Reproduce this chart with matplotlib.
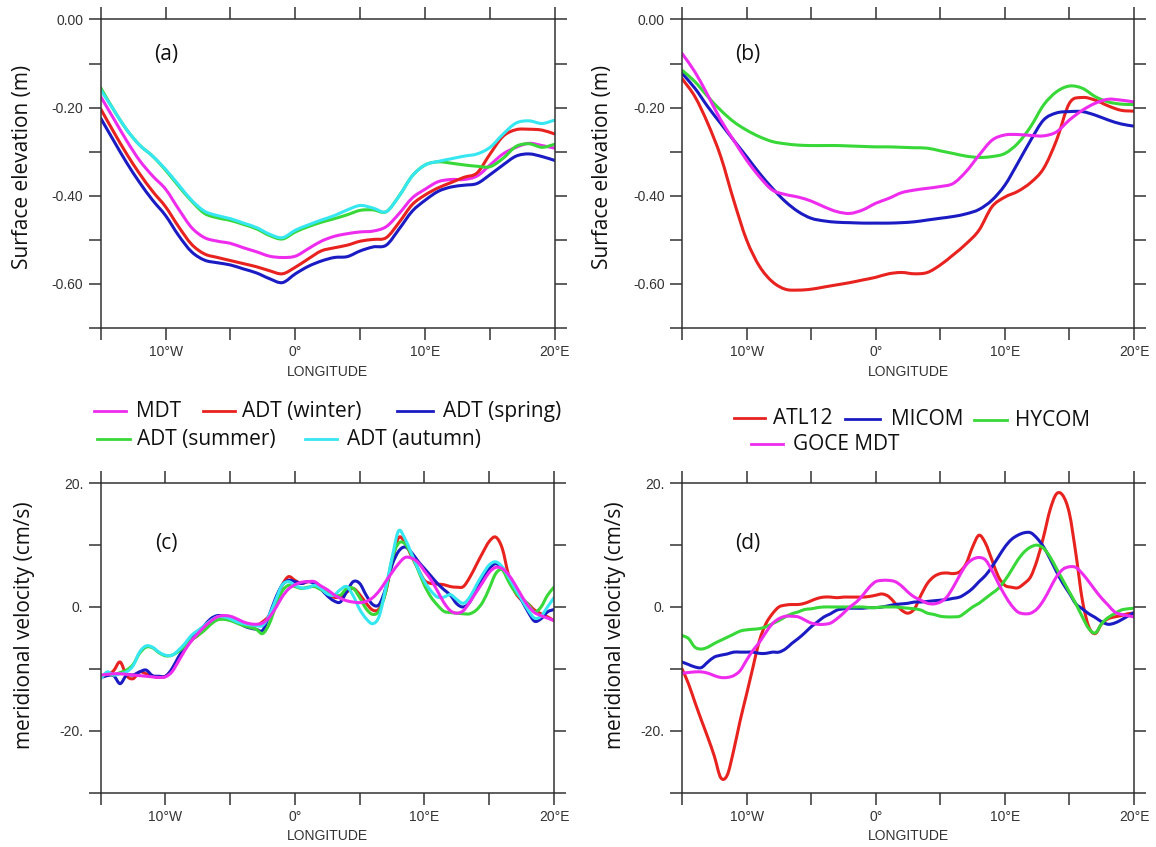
import numpy as np
import matplotlib
matplotlib.use("Agg")
import matplotlib.pyplot as plt
from matplotlib.lines import Line2D
from matplotlib.path import Path
from matplotlib.patches import PathPatch

# ---------------------------------------------------------------- data
# longitude grids (degrees east; negative = west)
lon_ab = np.arange(-15, 21, 1.0)
lon_cd = np.arange(-15, 20.01, 0.5)

# (a) surface elevation (m): MDT and seasonal ADT
a_mdt = [-0.175, -0.225, -0.275, -0.320, -0.355, -0.385, -0.430, -0.472, -0.495, -0.503,
         -0.508, -0.518, -0.527, -0.537, -0.540, -0.537, -0.520, -0.503, -0.492, -0.486,
         -0.482, -0.480, -0.470, -0.440, -0.405, -0.385, -0.368, -0.363, -0.363, -0.355,
         -0.330, -0.305, -0.290, -0.281, -0.286, -0.292]
a_winter = [-0.203, -0.255, -0.305, -0.350, -0.390, -0.425, -0.470, -0.510, -0.532, -0.540,
            -0.547, -0.554, -0.561, -0.570, -0.577, -0.562, -0.543, -0.525, -0.518, -0.512,
            -0.503, -0.499, -0.495, -0.460, -0.420, -0.398, -0.382, -0.370, -0.358, -0.348,
            -0.305, -0.265, -0.250, -0.249, -0.251, -0.260]
a_spring = [-0.224, -0.275, -0.325, -0.370, -0.410, -0.445, -0.490, -0.527, -0.546, -0.552,
            -0.557, -0.566, -0.575, -0.588, -0.597, -0.577, -0.560, -0.548, -0.540, -0.538,
            -0.525, -0.516, -0.512, -0.475, -0.435, -0.410, -0.390, -0.380, -0.376, -0.372,
            -0.352, -0.330, -0.310, -0.305, -0.311, -0.320]
a_summer = [-0.155, -0.205, -0.250, -0.285, -0.310, -0.342, -0.378, -0.412, -0.440, -0.450,
            -0.456, -0.465, -0.475, -0.490, -0.498, -0.482, -0.470, -0.460, -0.452, -0.443,
            -0.433, -0.432, -0.436, -0.400, -0.355, -0.330, -0.323, -0.326, -0.330, -0.333,
            -0.334, -0.315, -0.288, -0.282, -0.290, -0.283]
a_autumn = [-0.160, -0.205, -0.250, -0.285, -0.310, -0.340, -0.375, -0.410, -0.435, -0.445,
            -0.452, -0.462, -0.472, -0.487, -0.495, -0.478, -0.466, -0.455, -0.445, -0.432,
            -0.422, -0.428, -0.436, -0.400, -0.355, -0.330, -0.322, -0.316, -0.310, -0.305,
            -0.290, -0.260, -0.235, -0.230, -0.236, -0.228]

# (b) surface elevation (m): models and GOCE MDT
b_atl12 = [-0.134, -0.175, -0.236, -0.311, -0.410, -0.500, -0.560, -0.595, -0.612, -0.614,
           -0.612, -0.607, -0.602, -0.597, -0.591, -0.585, -0.577, -0.574, -0.577, -0.574,
           -0.557, -0.534, -0.509, -0.478, -0.425, -0.403, -0.390, -0.370, -0.338, -0.274,
           -0.190, -0.177, -0.183, -0.196, -0.206, -0.208]
b_micom = [-0.122, -0.156, -0.198, -0.236, -0.274, -0.311, -0.349, -0.383, -0.413, -0.436,
           -0.451, -0.457, -0.460, -0.461, -0.462, -0.462, -0.462, -0.461, -0.459, -0.455,
           -0.451, -0.447, -0.441, -0.431, -0.410, -0.376, -0.326, -0.274, -0.228, -0.212,
           -0.209, -0.209, -0.217, -0.228, -0.237, -0.242]
b_hycom = [-0.115, -0.141, -0.175, -0.206, -0.232, -0.251, -0.266, -0.277, -0.282, -0.285,
           -0.286, -0.286, -0.286, -0.287, -0.288, -0.289, -0.289, -0.290, -0.291, -0.292,
           -0.298, -0.304, -0.310, -0.313, -0.311, -0.304, -0.281, -0.243, -0.194, -0.164,
           -0.151, -0.156, -0.175, -0.187, -0.192, -0.193]
b_goce = [-0.077, -0.119, -0.172, -0.228, -0.274, -0.319, -0.357, -0.387, -0.397, -0.403,
          -0.412, -0.425, -0.436, -0.440, -0.432, -0.417, -0.406, -0.393, -0.387, -0.383,
          -0.379, -0.372, -0.345, -0.308, -0.274, -0.262, -0.261, -0.263, -0.264, -0.255,
          -0.228, -0.206, -0.190, -0.181, -0.183, -0.187]

# (c) meridional velocity (cm/s): MDT and seasonal ADT
c_mdt = [-11.0, -10.9, -10.8, -10.8, -10.9, -11.0, -11.1, -11.2, -11.3, -11.4,
         -11.3, -10.5, -8.8, -7.0, -5.5, -4.3, -3.2, -2.3, -1.6, -1.4,
         -1.5, -1.9, -2.4, -2.7, -2.8, -2.6, -1.7, -0.2, 1.6, 2.9,
         3.6, 4.0, 4.1, 4.1, 3.4, 2.8, 2.0, 1.4, 1.0, 0.8,
         0.7, 0.9, 1.5, 2.6, 4.1, 5.6, 7.0, 8.0, 7.9, 7.2,
         5.8, 4.4, 2.6, 0.7, -0.6, -1.0, -0.6, 0.8, 2.4, 4.0,
         5.6, 6.4, 6.2, 5.2, 3.6, 1.8, 0.2, -0.9, -1.4, -1.8,
         -2.2]
c_winter = [-11.4, -11.0, -10.3, -8.9, -11.1, -11.6, -10.5, -10.8, -11.2, -11.4,
            -11.2, -10.3, -8.6, -6.8, -5.4, -4.6, -3.5, -2.3, -1.6, -1.5,
            -1.9, -2.3, -2.7, -3.0, -3.0, -2.4, -1.4, 0.8, 3.5, 4.9,
            4.3, 3.8, 4.1, 4.0, 3.2, 2.2, 1.6, 1.6, 2.4, 3.0,
            2.0, 0.6, -0.5, -0.3, 2.4, 7.3, 11.2, 10.4, 8.2, 6.2,
            4.3, 3.8, 3.7, 3.6, 3.3, 3.2, 3.3, 4.8, 6.8, 8.8,
            10.6, 11.3, 9.5, 5.1, 2.4, 1.1, 0.5, -0.5, -1.1, -1.6,
            -2.2]
c_spring = [-11.4, -11.1, -11.1, -12.4, -11.0, -11.0, -10.5, -10.2, -11.1, -11.2,
            -11.2, -10.0, -8.1, -6.5, -5.1, -4.1, -3.0, -1.9, -1.4, -1.5,
            -1.6, -2.3, -3.0, -3.4, -3.6, -3.8, -1.4, 1.4, 3.5, 4.3,
            4.1, 3.8, 4.1, 3.8, 2.9, 1.8, 1.0, 0.8, 2.5, 4.1,
            3.8, 1.9, 0.4, 0.4, 3.0, 6.8, 9.0, 9.7, 8.8, 7.4,
            6.2, 5.0, 3.8, 2.8, 1.9, 0.5, 0.0, 0.8, 3.0, 4.8,
            6.2, 7.0, 6.2, 4.6, 3.0, 1.1, -0.8, -2.3, -1.9, -0.8,
            -0.4]
c_summer = [-11.3, -10.8, -11.0, -10.6, -10.2, -9.3, -7.5, -6.5, -6.6, -7.4,
            -7.9, -7.8, -7.2, -6.3, -5.3, -4.6, -3.8, -2.8, -2.1, -2.0,
            -2.2, -2.6, -3.0, -3.3, -3.6, -4.3, -2.8, 0.0, 2.5, 3.5,
            3.3, 3.0, 3.2, 3.3, 2.8, 2.3, 2.0, 1.9, 3.0, 3.0,
            1.5, -0.3, -1.2, -0.6, 2.4, 7.8, 10.3, 10.2, 8.4, 6.0,
            3.5, 1.6, 0.3, -0.7, -0.9, -1.0, -1.1, -1.1, -0.5, 0.8,
            3.0, 5.4, 6.0, 4.1, 2.4, 1.4, 0.5, -0.8, 0.0, 1.9,
            3.2]
c_autumn = [-11.6, -10.5, -11.0, -10.8, -10.5, -9.5, -7.3, -6.3, -6.5, -7.3,
            -7.8, -7.8, -7.0, -5.9, -4.6, -3.8, -3.0, -2.2, -1.6, -1.6,
            -1.9, -2.4, -2.7, -2.9, -3.0, -3.0, -1.4, 1.1, 3.5, 4.1,
            3.5, 3.1, 3.1, 3.5, 3.0, 2.1, 1.9, 2.8, 3.3, 1.8,
            -0.4, -1.9, -2.7, -1.5, 3.0, 8.0, 12.3, 11.0, 8.6, 6.2,
            4.1, 2.6, 1.6, 1.6, 2.0, 1.2, 0.6, 1.6, 3.5, 5.3,
            6.8, 7.3, 6.5, 4.8, 3.0, 1.2, -0.5, -1.8, -1.5, 0.0,
            1.5]

# (d) meridional velocity (cm/s): models and GOCE MDT
d_atl12 = [-10.0, -12.4, -15.4, -18.3, -21.1, -24.1, -27.6, -27.2, -23.2, -18.4,
           -14.1, -9.7, -5.4, -2.7, -1.1, 0.0, 0.3, 0.4, 0.4, 0.6,
           1.0, 1.4, 1.6, 1.6, 1.5, 1.6, 1.6, 1.6, 1.6, 1.7,
           1.9, 2.1, 1.7, 0.6, -0.5, -1.0, -0.3, 1.9, 3.8, 4.9,
           5.4, 5.5, 5.4, 5.7, 7.0, 9.7, 11.6, 10.3, 7.6, 4.9,
           3.5, 3.2, 3.1, 3.8, 4.9, 7.6, 11.4, 15.7, 18.3, 18.0,
           15.1, 8.6, 1.1, -3.2, -4.3, -2.7, -1.9, -1.6, -1.4, -1.1,
           -1.0]
d_micom = [-8.9, -9.3, -9.7, -9.8, -8.9, -8.1, -7.8, -7.6, -7.3, -7.3,
           -7.3, -7.3, -7.5, -7.5, -7.3, -7.3, -6.8, -5.9, -5.1, -4.2,
           -3.2, -2.4, -1.6, -1.1, -0.5, -0.3, -0.2, -0.2, -0.2, -0.1,
           -0.1, 0.0, 0.2, 0.4, 0.5, 0.6, 0.8, 0.8, 0.9, 1.0,
           1.1, 1.2, 1.4, 1.6, 2.2, 3.0, 4.1, 5.1, 6.5, 8.1,
           9.7, 10.9, 11.6, 12.0, 12.0, 11.1, 9.7, 7.8, 5.7, 3.8,
           2.2, 0.5, -0.3, -1.1, -1.7, -2.4, -2.8, -2.6, -2.1, -1.5,
           -0.9]
d_hycom = [-4.6, -5.1, -6.5, -6.8, -6.5, -5.9, -5.4, -4.9, -4.4, -3.9,
           -3.7, -3.6, -3.5, -3.2, -2.7, -2.2, -1.6, -1.1, -0.8, -0.4,
           -0.3, -0.1, 0.0, 0.0, 0.0, 0.0, 0.0, 0.0, 0.0, -0.1,
           -0.1, 0.0, 0.0, 0.0, -0.1, -0.2, -0.3, -0.5, -1.0, -1.2,
           -1.5, -1.6, -1.6, -1.5, -0.8, 0.0, 0.6, 1.4, 2.2, 3.0,
           4.3, 5.9, 7.6, 8.9, 9.7, 10.0, 9.5, 8.1, 6.2, 4.3,
           2.4, 0.5, -1.6, -3.5, -4.2, -2.7, -1.7, -1.1, -0.5, -0.3,
           -0.2]
d_goce = [-10.7, -10.6, -10.5, -10.5, -10.7, -11.1, -11.4, -11.4, -11.1, -10.3,
          -8.6, -7.0, -5.7, -4.1, -2.7, -1.9, -1.5, -1.5, -1.6, -2.1,
          -2.6, -2.8, -2.8, -2.6, -1.9, -1.0, 0.0, 0.8, 1.9, 3.2,
          4.1, 4.3, 4.3, 4.1, 3.4, 2.4, 1.6, 1.1, 0.6, 0.5,
          0.8, 1.6, 3.2, 5.1, 6.8, 7.7, 8.0, 7.6, 5.9, 3.8,
          1.9, 0.3, -0.8, -1.1, -1.0, -0.3, 1.1, 3.0, 4.9, 6.1,
          6.5, 6.4, 5.4, 4.1, 2.7, 1.4, 0.3, -0.8, -1.2, -1.4,
          -1.6]

# axis ticks and labels
lon_ticks = [-15, -10, -5, 0, 5, 10, 15, 20]
lon_ticklabels = ["", "10\u00b0W", "", "0\u00b0", "", "10\u00b0E", "", "20\u00b0E"]
ssh_ticks = [0.0, -0.1, -0.2, -0.3, -0.4, -0.5, -0.6, -0.7]
ssh_ticklabels = ["0.00", "", "-0.20", "", "-0.40", "", "-0.60", ""]
vel_ticks = [20, 10, 0, -10, -20, -30]
vel_ticklabels = ["20.", "", "0.", "", "-20.", ""]

obs_labels = ["MDT", "ADT (winter)", "ADT (spring)", "ADT (summer)", "ADT (autumn)"]
model_labels = ["ATL12", "MICOM", "HYCOM", "GOCE MDT"]

RED, BLUE, GREEN, CYAN, MAGENTA = "#e8231f", "#1b1bc4", "#38d838", "#36e6f0", "#ee2cee"

# ---------------------------------------------------------------- figure
W, H = 1156, 847
fig = plt.figure(figsize=(W / 100, H / 100), dpi=100)
LABEL_FONT = ["Open Sans", "DejaVu Sans"]
TICK_FONT = ["Liberation Sans", "DejaVu Sans"]
AXIS_COLOR = "#333333"
LW = 2.2


def fx(x):
    return x / W


def fy(y):
    return 1 - y / H


def add_panel(x0, x1, y0, y1):
    return fig.add_axes([fx(x0), fy(y1), fx(x1) - fx(x0), fy(y0) - fy(y1)])


def smooth_curve(ax, x, y, color):
    """Draw a curve through every (x, y) point using cubic Bezier segments
    (Catmull-Rom tangents) so the line is rounded like a spline plot."""
    x = np.asarray(x, float)
    y = np.asarray(y, float)
    n = len(x)
    verts = [(x[0], y[0])]
    codes = [Path.MOVETO]
    for i in range(n - 1):
        i0, i3 = max(i - 1, 0), min(i + 2, n - 1)
        t1 = ((x[i + 1] - x[i0]) / (i + 1 - i0), (y[i + 1] - y[i0]) / (i + 1 - i0))
        t2 = ((x[i3] - x[i]) / (i3 - i), (y[i3] - y[i]) / (i3 - i))
        verts += [(x[i] + t1[0] / 3, y[i] + t1[1] / 3),
                  (x[i + 1] - t2[0] / 3, y[i + 1] - t2[1] / 3),
                  (x[i + 1], y[i + 1])]
        codes += [Path.CURVE4] * 3
    ax.add_patch(PathPatch(Path(verts, codes), facecolor="none", edgecolor=color,
                           lw=LW, capstyle="round", joinstyle="round"))


def style(ax, yticks, yticklabels, ylim, ylabel, ylab_x, ylab_y, tag, tag_y):
    ax.set_xlim(-15, 20)
    ax.set_ylim(*ylim)
    ax.set_xticks(lon_ticks)
    ax.set_xticklabels(lon_ticklabels, family=TICK_FONT)
    ax.set_yticks(yticks)
    ax.set_yticklabels(yticklabels, family=TICK_FONT)
    ax.tick_params(direction="out", length=8.5, width=1.1, color=AXIS_COLOR,
                   top=True, right=True, labelsize=10, labelcolor="#333333")
    ax.tick_params(axis="x", pad=4)
    ax.tick_params(axis="y", pad=4)
    for sp in ax.spines.values():
        sp.set_linewidth(1.1)
        sp.set_color(AXIS_COLOR)
    ax.set_xlabel("LONGITUDE", fontsize=10, family=TICK_FONT, color="#333333", labelpad=4)
    ax.set_ylabel(ylabel, fontsize=15, family=LABEL_FONT, color="#111111")
    ax.yaxis.set_label_coords(ylab_x, ylab_y)
    ax.text(0.145, tag_y, tag, transform=ax.transAxes, fontsize=15,
            family=LABEL_FONT, ha="center", va="center", color="#111111")


# (a)
ax_a = add_panel(100.7, 555, 19.5, 328)
for vals, col in [(a_mdt, MAGENTA), (a_winter, RED), (a_spring, BLUE),
                  (a_summer, GREEN), (a_autumn, CYAN)]:
    smooth_curve(ax_a, lon_ab, vals, col)
style(ax_a, ssh_ticks, ssh_ticklabels, (-0.7, 0.0), "Surface elevation (m)",
      -0.149, 0.523, "(a)", 0.885)

# (b)
ax_b = add_panel(682, 1134, 19.5, 328)
for vals, col in [(b_atl12, RED), (b_micom, BLUE), (b_hycom, GREEN), (b_goce, MAGENTA)]:
    smooth_curve(ax_b, lon_ab, vals, col)
style(ax_b, ssh_ticks, ssh_ticklabels, (-0.7, 0.0), "Surface elevation (m)",
      -0.153, 0.523, "(b)", 0.885)

# (c)
ax_c = add_panel(100.7, 554, 483.3, 792.5)
for vals, col in [(c_winter, RED), (c_spring, BLUE), (c_summer, GREEN),
                  (c_autumn, CYAN), (c_mdt, MAGENTA)]:
    smooth_curve(ax_c, lon_cd, vals, col)
style(ax_c, vel_ticks, vel_ticklabels, (-30, 20), "meridional velocity (cm/s)",
      -0.145, 0.54, "(c)", 0.806)

# (d)
ax_d = add_panel(682, 1134, 483.3, 792.5)
for vals, col in [(d_atl12, RED), (d_micom, BLUE), (d_hycom, GREEN), (d_goce, MAGENTA)]:
    smooth_curve(ax_d, lon_cd, vals, col)
style(ax_d, vel_ticks, vel_ticklabels, (-30, 20), "meridional velocity (cm/s)",
      -0.125, 0.54, "(d)", 0.806)


# ---------------------------------------------------------------- legends
def legend_item(x_line0, x_line1, x_text, y, color, label):
    fig.add_artist(Line2D([fx(x_line0), fx(x_line1)], [fy(y), fy(y)],
                          transform=fig.transFigure, color=color, lw=2.0))
    fig.text(fx(x_text), fy(y), label, fontsize=15, family=LABEL_FONT,
             color="#111111", ha="left", va="center")


obs_colors = [MAGENTA, RED, BLUE, GREEN, CYAN]
obs_pos = [(94, 126, 136, 411), (203, 235, 242, 411), (397, 433, 443, 411),
           (97, 130, 137, 439), (305, 337, 347, 439)]
for (x0, x1, xt, y), col, lab in zip(obs_pos, obs_colors, obs_labels):
    legend_item(x0, x1, xt, y, col, lab)

model_colors = [RED, BLUE, GREEN, MAGENTA]
model_pos = [(734, 765, 773, 418), (845, 880, 891, 419), (974, 1007, 1015, 420),
             (751, 783, 793, 444)]
for (x0, x1, xt, y), col, lab in zip(model_pos, model_colors, model_labels):
    legend_item(x0, x1, xt, y, col, lab)

fig.savefig("out.png", dpi=100)
